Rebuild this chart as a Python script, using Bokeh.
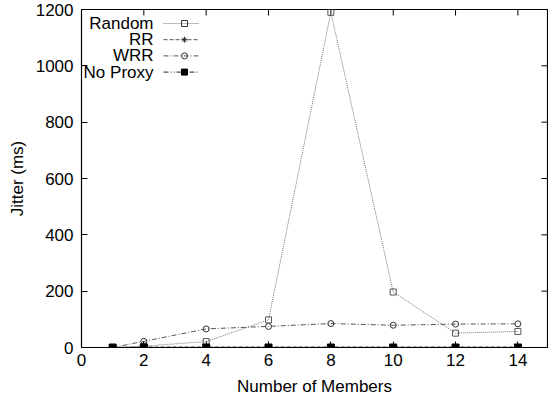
from bokeh.plotting import figure
from bokeh.models import Range1d, Label, FixedTicker
from bokeh.embed import file_html
from bokeh.resources import INLINE

# Jitter (ms) versus group size for each proxy policy
members = [1, 2, 4, 6, 8, 10, 12, 14]
random_jitter = [0, 5, 21, 98, 1190, 197, 51, 57]
rr_jitter = [0, 2, 2, 2, 2, 2, 2, 2]
wrr_jitter = [0, 22, 66, 75, 85, 79, 83, 84]
noproxy_jitter = [0, 0, 0, 0, 0, 0, 0, 0]

x_ticks = [0, 2, 4, 6, 8, 10, 12, 14]
y_ticks = [0, 200, 400, 600, 800, 1000, 1200]

FONT = "Liberation Sans"
X_MAX = 14.95
Y_MAX = 1200
FRAME_W = 466.0
FRAME_H = 338.0
px_x = X_MAX / FRAME_W
px_y = Y_MAX / FRAME_H

p = figure(width=548, height=398, output_backend="svg", toolbar_location=None,
           x_range=Range1d(0, X_MAX), y_range=Range1d(0, Y_MAX),
           min_border_left=81, min_border_right=1, min_border_top=9,
           min_border_bottom=51)
p.xgrid.visible = False
p.ygrid.visible = False
p.outline_line_color = "black"
p.outline_line_width = 1.2
p.background_fill_color = "white"
p.border_fill_color = "white"

for ax, ticks in ((p.xaxis[0], x_ticks), (p.yaxis[0], y_ticks)):
    ax.ticker = FixedTicker(ticks=ticks)
    ax.major_tick_in = 6
    ax.major_tick_out = 0
    ax.minor_tick_in = 0
    ax.minor_tick_out = 0
    ax.axis_line_color = "black"
    ax.major_label_text_font = FONT
    ax.major_label_text_font_size = "17px"
    ax.major_label_text_color = "black"
    ax.axis_label_text_font = FONT
    ax.axis_label_text_font_size = "17px"
    ax.axis_label_text_font_style = "normal"
    ax.axis_label_text_color = "black"
p.xaxis[0].axis_label = "Number of Members"
p.yaxis[0].axis_label = "Jitter (ms)"
p.xaxis[0].major_label_standoff = 6
p.yaxis[0].major_label_standoff = 8
p.xaxis[0].axis_label_standoff = 8
p.yaxis[0].axis_label_standoff = 6

# mirrored inward ticks on the top and right edges
tick_len = 6
p.segment(x0=x_ticks, x1=x_ticks, y0=[Y_MAX] * len(x_ticks),
          y1=[Y_MAX - tick_len * px_y] * len(x_ticks), line_color="black", line_width=1)
p.segment(x0=[X_MAX] * len(y_ticks), x1=[X_MAX - tick_len * px_x] * len(y_ticks),
          y0=y_ticks, y1=y_ticks, line_color="black", line_width=1)

LINE = "#555555"
MARK = "#333333"

p.line(members, random_jitter, line_color="#777777", line_width=1, line_dash="1 1")
p.scatter(members, random_jitter, marker="square", size=6, fill_color=None,
          line_color="#555555", line_width=1)

p.line(members, rr_jitter, line_color=LINE, line_width=1, line_dash="4 2")
p.scatter(members, rr_jitter, marker="asterisk", size=7, line_color=MARK, line_width=1)

p.line(members, wrr_jitter, line_color=LINE, line_width=1, line_dash="5 2 1 2")
p.scatter(members, wrr_jitter, marker="circle", size=6, fill_color=None,
          line_color=MARK, line_width=1)

p.line(members, noproxy_jitter, line_color="#222222", line_width=1, line_dash="5 2 1 2 1 2")
p.scatter(members, noproxy_jitter, marker="square", size=7, fill_color="black",
          line_color="black")

# legend, top-left, text right-aligned with a line sample after it
names = ["Random", "RR", "WRR", "No Proxy"]
styles = [
    dict(dash="1 1", marker="square", fill=None, color="#777777"),
    dict(dash="4 2", marker="asterisk", fill=None, color=LINE),
    dict(dash="5 2 1 2", marker="circle", fill=None, color=LINE),
    dict(dash="5 2 1 2 1 2", marker="square", fill="black", color="#222222"),
]
text_right_px = 72
row_top_px = 14
row_step_px = 16.2
for i, (name, st) in enumerate(zip(names, styles)):
    yp = row_top_px + i * row_step_px
    p.add_layout(Label(x=text_right_px, y=FRAME_H - yp, x_units="screen", y_units="screen",
                       text=name, text_align="right", text_baseline="middle",
                       text_font=FONT, text_font_size="17px", text_color="black"))
    yd = Y_MAX - yp * px_y
    x0, x1, xm = 82 * px_x, 118 * px_x, 103 * px_x
    p.line([x0, x1], [yd, yd], line_color=st["color"], line_width=1, line_dash=st["dash"])
    p.scatter([xm], [yd], marker=st["marker"], size=6, fill_color=st["fill"],
              line_color="black" if st["fill"] else MARK, line_width=1)

open("out.html", "w").write(file_html(p, INLINE))
